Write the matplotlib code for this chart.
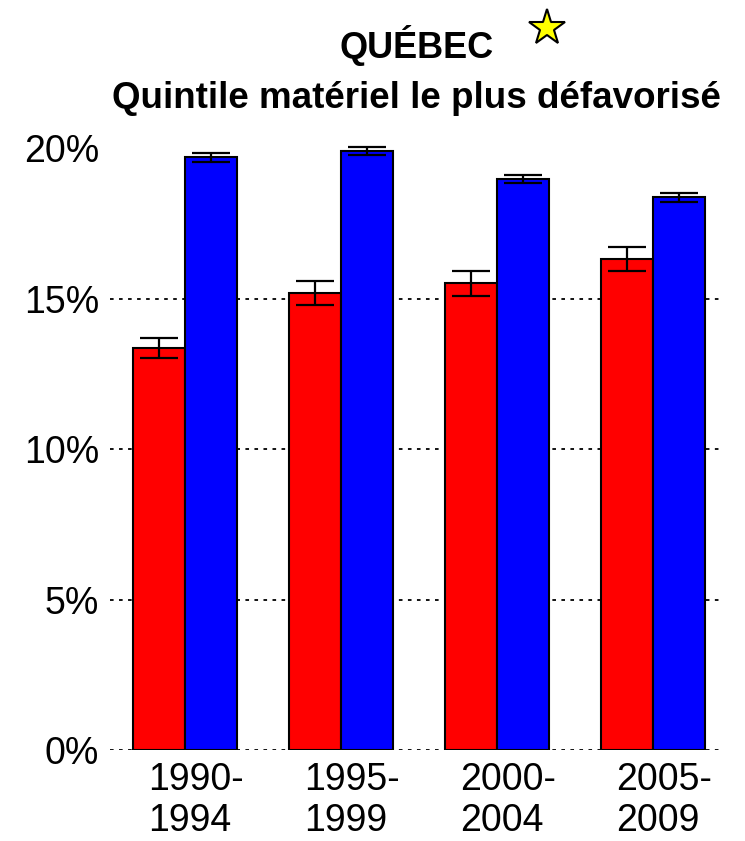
import numpy as np
import matplotlib
matplotlib.use('Agg')
import matplotlib.pyplot as plt
from matplotlib.lines import Line2D
from matplotlib.transforms import ScaledTranslation

periods = ['1990-\n1994', '1995-\n1999', '2000-\n2004', '2005-\n2009']
red_vals = [13.35, 15.17, 15.5, 16.3]
red_err = [0.33, 0.40, 0.43, 0.40]
blue_vals = [19.69, 19.9, 18.97, 18.36]
blue_err = [0.14, 0.14, 0.14, 0.14]
yticks = [0, 5, 10, 15, 20]
grid_levels = [0, 5, 10, 15]

plt.rcParams['font.family'] = ['Liberation Sans', 'DejaVu Sans']

W, H = 745, 841
fig = plt.figure(figsize=(W / 100, H / 100), dpi=100)
# axes placed in pixel terms
left, right, bottom, top = 110, 723, 750, 133
ax = fig.add_axes([left / W, 1 - bottom / H, (right - left) / W, (bottom - top) / H])

x = np.arange(len(periods))
w = 1 / 3.0
ekw = dict(elinewidth=1.6, capthick=1.6, ecolor='black')
for lvl in grid_levels:
    ax.axhline(lvl, color='black', linestyle=(0, (2, 3)), linewidth=1.3, zorder=0)
ax.bar(x - w / 2, red_vals, w, color='#FF0000', edgecolor='black', linewidth=1.5,
       yerr=red_err, capsize=14, error_kw=ekw, zorder=2)
ax.bar(x + w / 2, blue_vals, w, color='#0000FF', edgecolor='black', linewidth=1.5,
       yerr=blue_err, capsize=14, error_kw=ekw, zorder=2)

ax.set_xlim((left - 185) / 156.0, (right - 185) / 156.0)
ax.set_ylim(0, 20.5)
ax.set_yticks(yticks)
ax.set_yticklabels(['%d%%' % v for v in yticks], fontsize=27)
ax.set_xticks(x)
ax.set_xticklabels(periods, fontsize=27, multialignment='left', linespacing=1.15)
ax.tick_params(axis='both', length=0)
ax.tick_params(axis='y', pad=8)
ax.tick_params(axis='x', pad=9)
for lbl in ax.get_xticklabels():
    lbl.set_transform(lbl.get_transform() + ScaledTranslation(0.11, 0, fig.dpi_scale_trans))
for s in ax.spines.values():
    s.set_visible(False)

cx = (left + right) / 2.0 / W
fig.text(cx, 1 - 58 / H, 'QUÉBEC', ha='center', va='baseline', fontsize=26, fontweight='bold')
fig.text(cx, 1 - 108 / H, 'Quintile matériel le plus défavorisé', ha='center', va='baseline',
         fontsize=26.5, fontweight='bold')
star = Line2D([547 / W], [1 - 28 / H], marker='*', markersize=27, markerfacecolor='#FFFF00',
              markeredgecolor='black', markeredgewidth=1.5, transform=fig.transFigure)
fig.add_artist(star)

fig.savefig('out.png', dpi=100)
